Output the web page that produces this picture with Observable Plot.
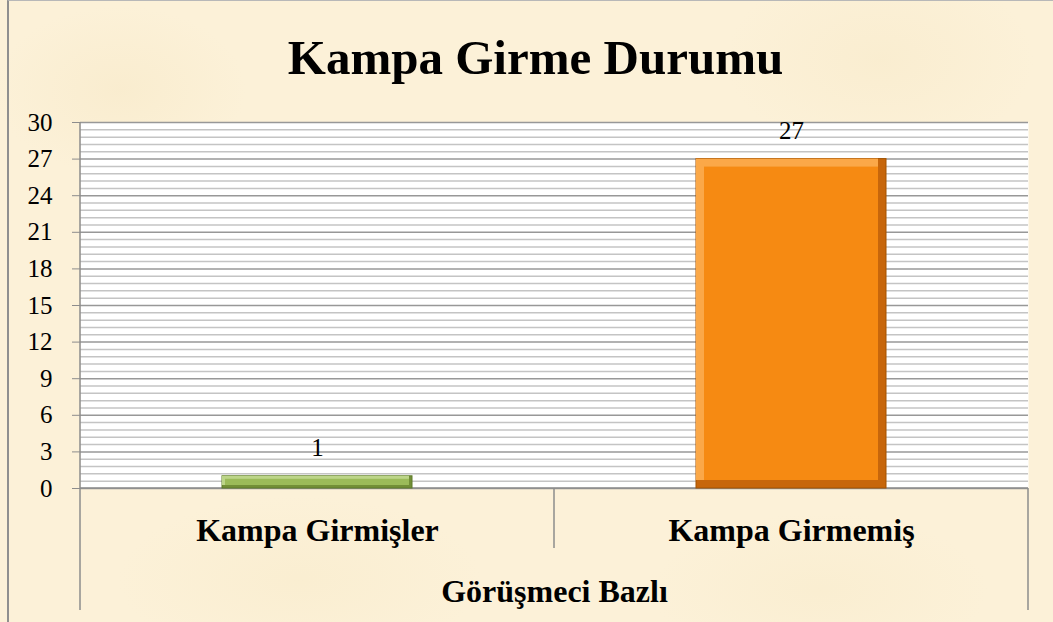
<!DOCTYPE html>
<html>
<head>
<meta charset="utf-8">
<script src="https://cdn.jsdelivr.net/npm/d3@7"></script>
<script src="https://cdn.jsdelivr.net/npm/@observablehq/plot@0.6"></script>
<style>
  html, body { margin: 0; padding: 0; }
  body {
    width: 1053px; height: 622px; overflow: hidden; position: relative;
    background-color: #fcf1d8;
    background-image:
      radial-gradient(ellipse 180px 120px at 120px 90px, rgba(244,228,190,0.35), rgba(244,228,190,0) 70%),
      radial-gradient(ellipse 220px 140px at 880px 60px, rgba(244,228,190,0.3), rgba(244,228,190,0) 70%),
      radial-gradient(ellipse 260px 120px at 300px 580px, rgba(246,232,196,0.35), rgba(246,232,196,0) 70%),
      radial-gradient(ellipse 240px 110px at 820px 590px, rgba(246,232,196,0.35), rgba(246,232,196,0) 70%);
  }
  #frame { position: absolute; left: 7px; top: 0; width: 1046px; height: 622px;
           border-left: 2px solid #8f8f8f; border-top: 1px solid #b8b8b8; box-sizing: border-box; }
  #chart { position: absolute; left: 0; top: 0; }
</style>
</head>
<body>
<div id="frame"></div>
<div id="chart"></div>
<script>
// ---- data ----
const title = "Kampa Girme Durumu";
const categories = ["Kampa Girmişler", "Kampa Girmemiş"];
const values = [1, 27];
const groupLabel = "Görüşmeci Bazlı";
const yTicks = [0, 3, 6, 9, 12, 15, 18, 21, 24, 27, 30];
const minorStep = 0.6;

// ---- styles ----
const fontFamily = "'Liberation Serif', 'Times New Roman', serif";
const palettes = [
  {dark: "#728f37", light: "#bcd588", main: "#9bbb59", edge: "#5e7a2b"},
  {dark: "#c7660b", light: "#fba848", main: "#f68a12", edge: "#a35200"}
];
const bevels = [3, 8];
const barInset = 142;

const data = categories.map((c, i) => ({category: c, value: values[i]}));
const minorTicks = d3.range(0, 30 + 1e-9, minorStep).filter(v => !yTicks.some(t => Math.abs(t - v) < 1e-6));

const barMarks = data.flatMap((d, i) => {
  const b = bevels[i], p = palettes[i], sub = [d];
  const base = {x: "category", y: "value", insetLeft: barInset, insetRight: barInset};
  return [
    Plot.barY(sub, {...base, fill: p.dark, stroke: p.edge, strokeWidth: 1}),
    Plot.barY(sub, {...base, insetRight: barInset + b, insetBottom: b, fill: p.light}),
    Plot.barY(sub, {...base, insetLeft: barInset + b, insetRight: barInset + b, insetTop: b, insetBottom: b, fill: p.main})
  ];
});

function categoryFrame(index, scales, values, dimensions) {
  const {width, height, marginRight, marginTop} = dimensions;
  const x = scales.x, y = scales.y;
  const y0 = y(0);
  const g = d3.create("svg:g").attr("stroke", "#8c8c8c").attr("stroke-width", 1.5).attr("fill", "none");
  const bounds = [...categories.map(c => x(c)), width - marginRight];
  g.append("line").attr("x1", bounds[0]).attr("x2", bounds[bounds.length - 1]).attr("y1", y0).attr("y2", y0);
  bounds.forEach((b, i) => {
    const outer = i === 0 || i === bounds.length - 1;
    g.append("line")
      .attr("x1", b).attr("x2", b)
      .attr("y1", i === 0 ? marginTop : y0)
      .attr("y2", outer ? height - 12 : y0 + 60);
  });
  return g.node();
}

const chart = Plot.plot({
  width: 1053,
  height: 622,
  marginLeft: 80,
  marginRight: 25,
  marginTop: 122,
  marginBottom: 134,
  style: {fontFamily, background: "transparent", overflow: "visible", color: "black"},
  x: {domain: categories, padding: 0, axis: null},
  y: {domain: [0, 30], label: null},
  marks: [
    Plot.frame({fill: "white", stroke: null}),
    Plot.ruleY(minorTicks, {stroke: "#c4c4c4", strokeWidth: 1.5}),
    Plot.ruleY(yTicks, {stroke: "#989898", strokeWidth: 1.5}),
    Plot.axisY(yTicks, {label: null, tickSize: 8, tickPadding: 20, fontSize: 25, stroke: "#8c8c8c", fill: "black", tickFormat: d => String(d)}),
    categoryFrame,
    ...barMarks,
    Plot.text(data, {x: "category", y: "value", text: d => String(d.value), dy: -20, lineAnchor: "bottom", fontSize: 25, fill: "black"}),
    Plot.text(categories, {x: d => d, frameAnchor: "bottom", dy: 52, lineAnchor: "bottom", fontSize: 32, fontWeight: "bold", fill: "black"}),
    Plot.text([groupLabel], {frameAnchor: "bottom", dy: 113, lineAnchor: "bottom", fontSize: 32, fontWeight: "bold", fill: "black"}),
    Plot.text([title], {frameAnchor: "top", dy: -49, dx: -19, lineAnchor: "bottom", fontSize: 49, fontWeight: "bold", fill: "black"})
  ]
});
document.getElementById("chart").appendChild(chart);
</script>
</body>
</html>
